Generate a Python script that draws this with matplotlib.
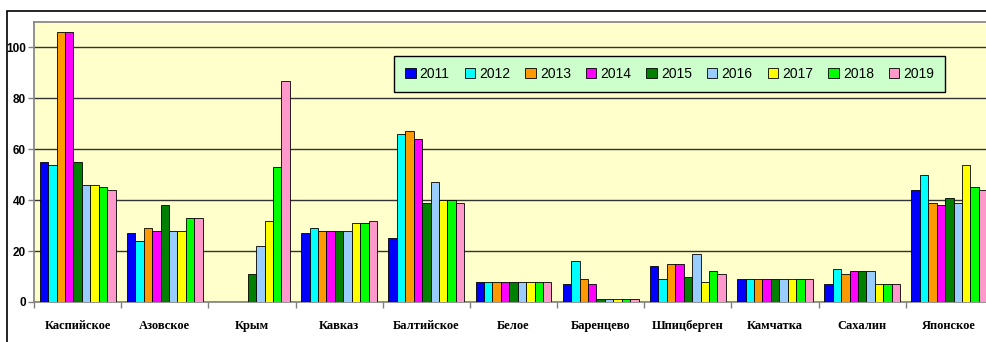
import numpy as np
import matplotlib
matplotlib.use("Agg")
import matplotlib.pyplot as plt
from matplotlib.patches import Rectangle

# Регионы и годы
regions = ["Каспийское", "Азовское", "Крым", "Кавказ", "Балтийское", "Белое",
           "Баренцево", "Шпицберген", "Камчатка", "Сахалин", "Японское"]
years = ["2011", "2012", "2013", "2014", "2015", "2016", "2017", "2018", "2019"]

# Значения по регионам (порядок как в regions); nan — нет данных
v2011 = [55, 27, np.nan, 27, 25, 8, 7, 14, 9, 7, 44]
v2012 = [54, 24, np.nan, 29, 66, 8, 16, 9, 9, 13, 50]
v2013 = [106, 29, np.nan, 28, 67, 8, 9, 15, 9, 11, 39]
v2014 = [106, 28, np.nan, 28, 64, 8, 7, 15, 9, 12, 38]
v2015 = [55, 38, 11, 28, 39, 8, 1, 10, 9, 12, 41]
v2016 = [46, 28, 22, 28, 47, 8, 1, 19, 9, 12, 39]
v2017 = [46, 28, 32, 31, 40, 8, 1, 8, 9, 7, 54]
v2018 = [45, 33, 53, 31, 40, 8, 1, 12, 9, 7, 45]
v2019 = [44, 33, 87, 32, 39, 8, 1, 11, 9, 7, 44]
series = [v2011, v2012, v2013, v2014, v2015, v2016, v2017, v2018, v2019]

colors = ["#0000FF", "#00FFFF", "#FF9900", "#FF00FF", "#008000",
          "#99CCFF", "#FFFF00", "#00FF00", "#FF99CC"]

W, H = 986, 342
fig = plt.figure(figsize=(W / 100, H / 100), dpi=100)
fig.patch.set_facecolor("white")

# Рамка вокруг всей диаграммы
fig.patches.append(Rectangle((7 / W, -0.05), 1.1, 1 - 11 / H + 0.05,
                             transform=fig.transFigure, fill=False,
                             edgecolor="black", linewidth=1.2, clip_on=False))

ax = fig.add_axes([34 / W, 40 / H, 959 / W, 280 / H])
ax.set_facecolor("#FFFFCC")

n = len(series)
group = 0.87
bw = group / n
x = np.arange(len(regions))
for i, (vals, c, yr) in enumerate(zip(series, colors, years)):
    pos = x - group / 2 + bw * (i + 0.5)
    ax.bar(pos, np.asarray(vals, dtype=float), width=bw, color=c,
           edgecolor="black", linewidth=0.6, label=yr, zorder=3)

ax.set_xlim(-0.5, len(regions) - 0.5)
ax.set_ylim(0, 110)
ax.set_yticks([0, 20, 40, 60, 80, 100])
ax.yaxis.grid(True, color="#333333", linewidth=1.0, zorder=1)
ax.set_axisbelow(True)

# Деления по границам категорий, подписи — по центрам
ax.set_xticks(np.arange(len(regions) + 1) - 0.5)
ax.set_xticklabels([])
ax.set_xticks(x, minor=True)
ax.set_xticklabels(regions, minor=True, fontfamily="Liberation Serif",
                   fontweight="bold", fontsize=9)
ax.tick_params(axis="x", which="minor", length=0, pad=13)
ax.tick_params(axis="x", which="major", length=4, width=1, color="#808080",
               direction="out")
ax.tick_params(axis="y", length=4, width=1, color="#808080", pad=2)
for lab in ax.get_yticklabels():
    lab.set_fontfamily("Liberation Sans")
    lab.set_fontweight("bold")
    lab.set_fontsize(8.5)

for side in ["left", "bottom", "top", "right"]:
    ax.spines[side].set_color("#808080")
    ax.spines[side].set_linewidth(1.2)

leg = ax.legend(ncol=9, loc="upper left",
                bbox_to_anchor=((394 - 34) / 959, (302 - 56) / 280),
                prop={"family": "Liberation Sans", "size": 10},
                handlelength=0.75, handleheight=0.75, handletextpad=0.3,
                columnspacing=1.08, frameon=True, fancybox=False,
                borderpad=0.8, borderaxespad=0)
frame = leg.get_frame()
frame.set_facecolor("#CCFFCC")
frame.set_edgecolor("black")
frame.set_linewidth(1.0)
frame.set_alpha(1)
for h in leg.legend_handles:
    h.set_edgecolor("black")
    h.set_linewidth(0.6)

fig.savefig("out.png", dpi=100)
